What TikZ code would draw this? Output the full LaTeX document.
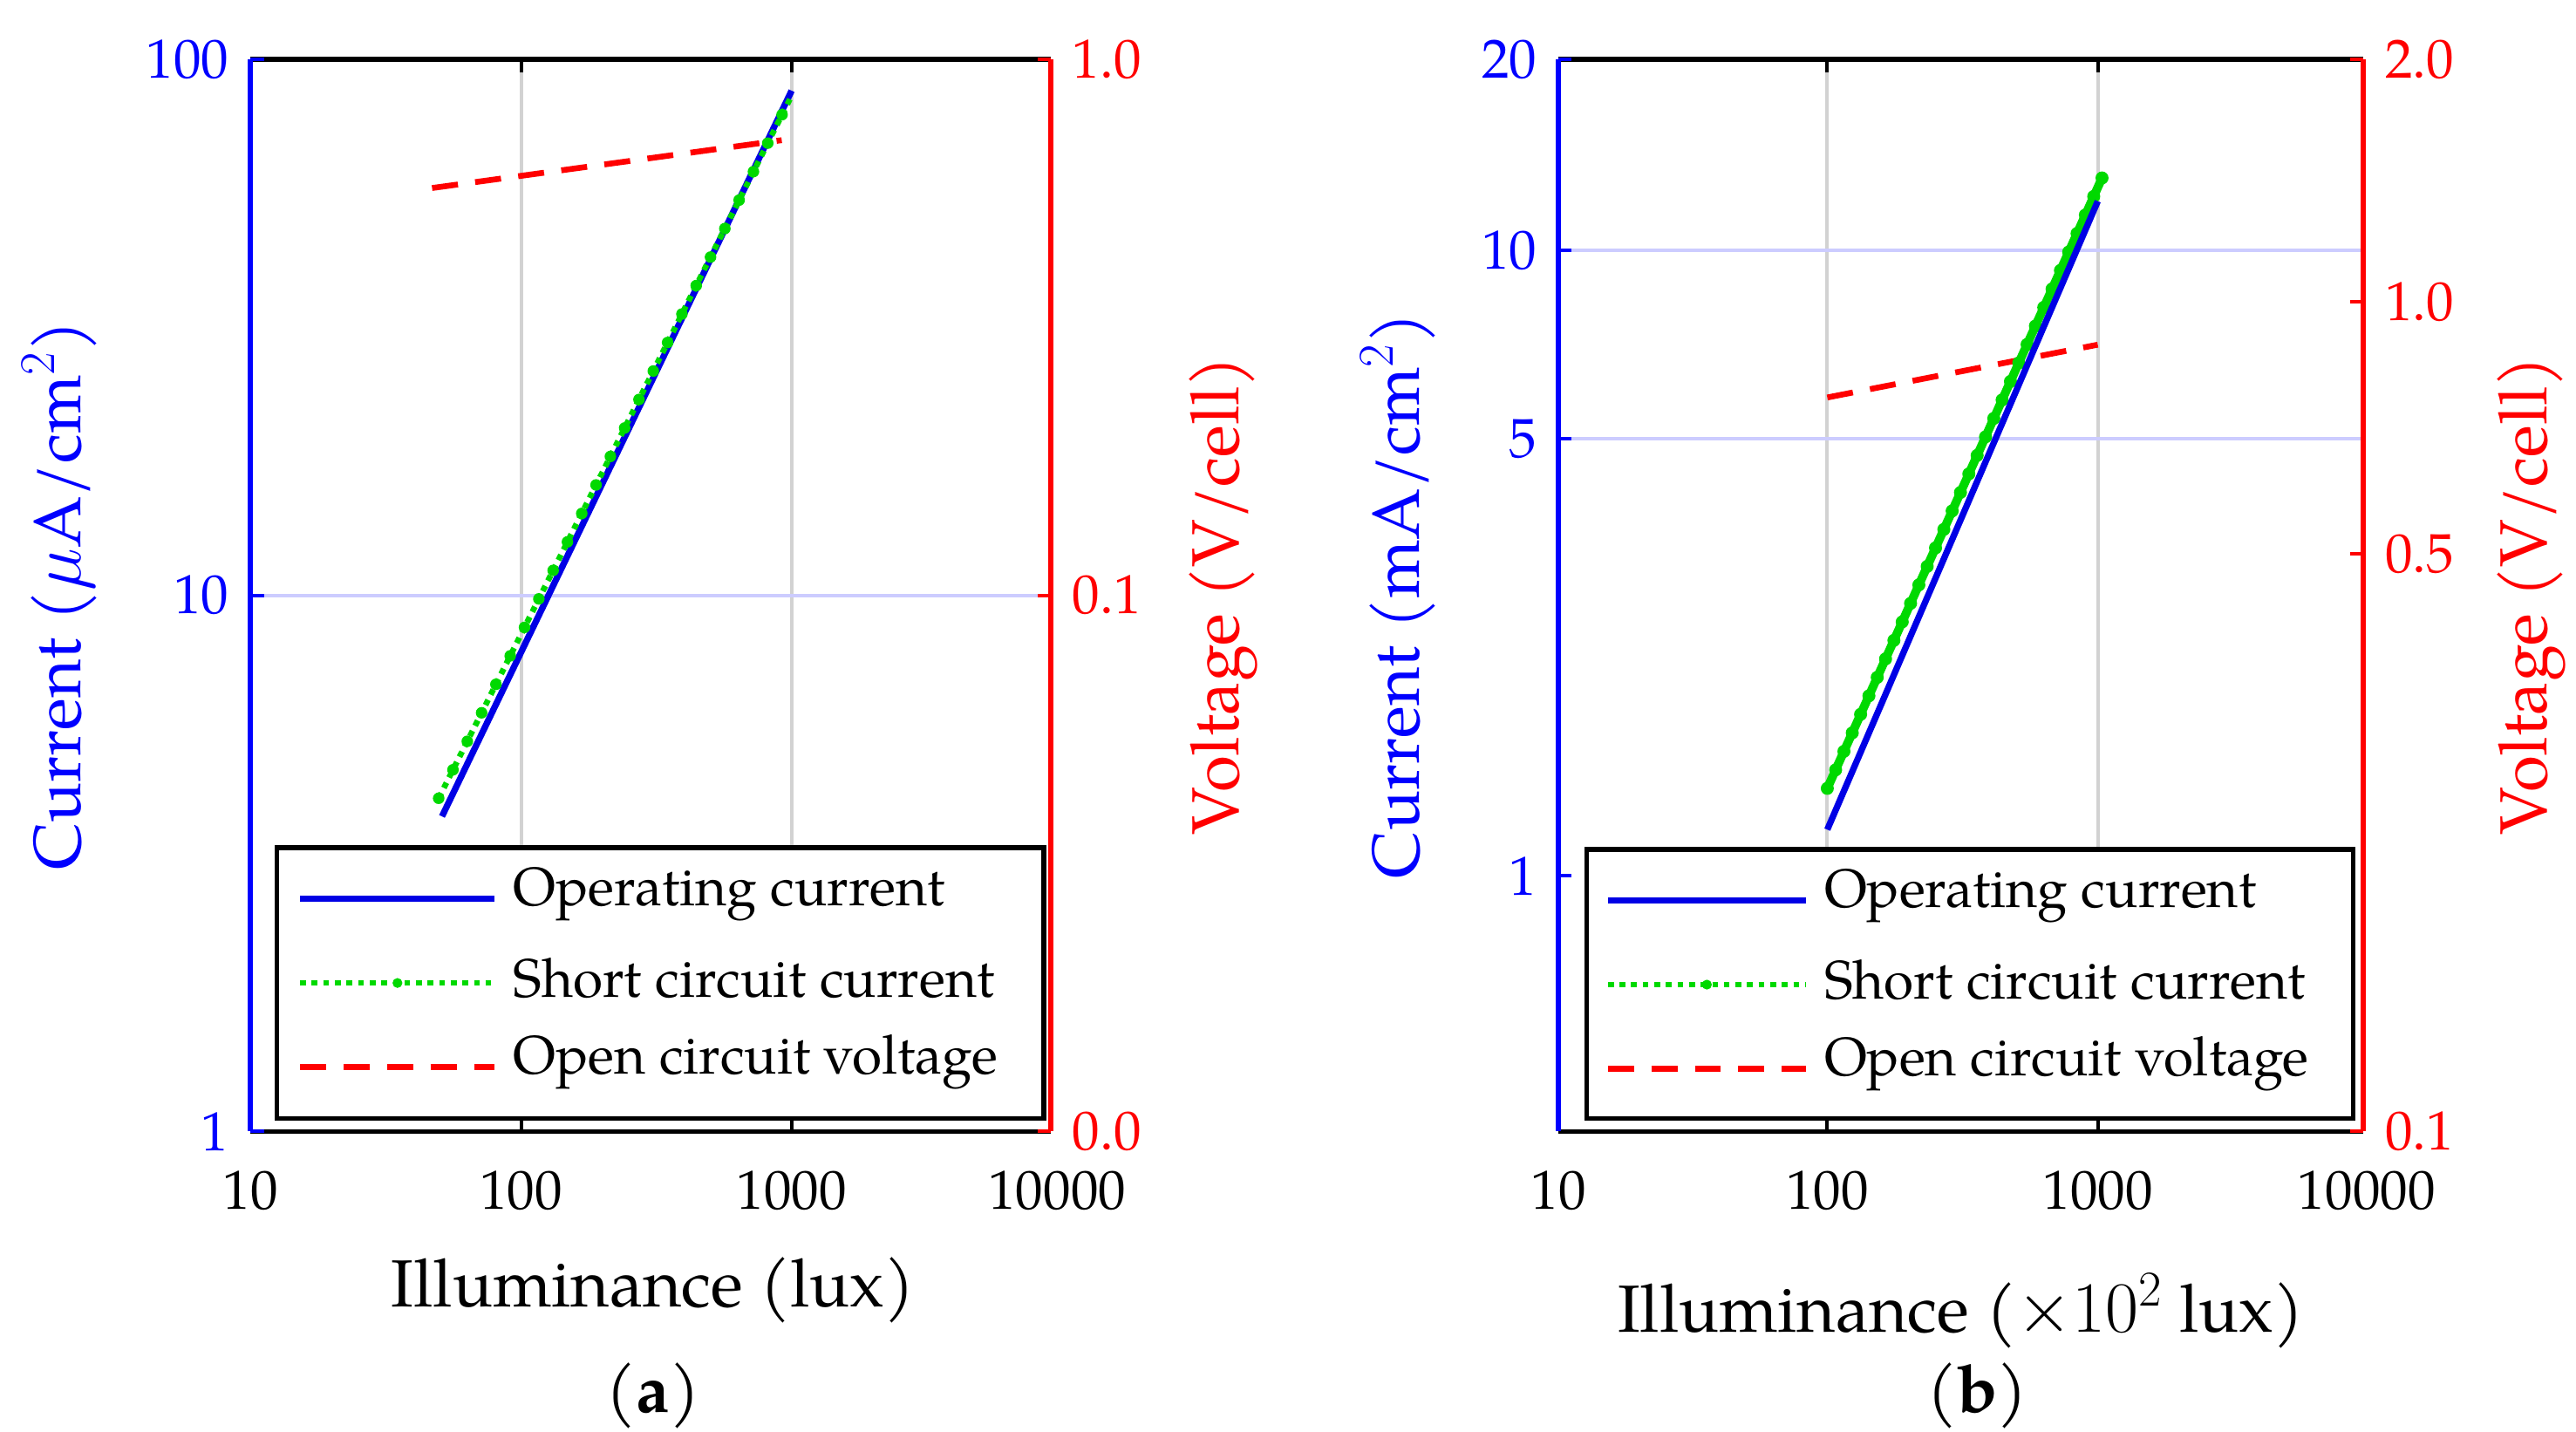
\documentclass[tikz,border=0pt]{standalone}
\usepackage{fontspec}
\setmainfont{TeX Gyre Pagella}[Extension=.otf,UprightFont=texgyrepagella-regular,BoldFont=texgyrepagella-bold]
\begin{document}
\begin{tikzpicture}[x=0.02cm,y=-0.02cm,
 tk/.style={font=\fontsize{19}{21}\selectfont},
 lab/.style={font=\fontsize{23}{25}\selectfont},
 leg/.style={font=\fontsize{18.7}{21}\selectfont,anchor=west},
 opc/.style={blue!90!black,line width=2.2pt},
 scc/.style={green!85!black,line width=2pt,dotted},
 dots/.style={green!85!black,line width=4.5pt,line cap=round,dash pattern=on 0pt off 7pt},
 ocv/.style={red,line width=2pt,dash pattern=on 9pt off 6pt},
 gridv/.style={gray!35,line width=1.2pt},
 gridh/.style={blue!20,line width=1.2pt}]
\useasboundingbox (0,0) rectangle (1562,868);
% ---------- panel a
\draw[gridv] (316,36)--(316,686) (480,36)--(480,686);
\draw[gridh] (152,361)--(637,361);
\draw[black,line width=1.6pt] (152,36)--(637,36) (152,686)--(637,686);
\draw[blue,line width=1.8pt] (152,36)--(152,686);
\draw[red,line width=1.8pt] (637,36)--(637,686);
\foreach \y/\t in {36/100,361/10,686/1}{\draw[blue,line width=1.2pt](152,\y)--(160,\y); \node[tk,blue,anchor=east] at (145,\y) {\t};}
\foreach \y/\t in {36/1.0,361/0.1,686/0.0}{\draw[red,line width=1.2pt](637,\y)--(629,\y); \node[tk,red,anchor=west] at (644,\y) {\t};}
\foreach \x/\t in {152/10,316/100,480/1000,641/10000}{\node[tk] at (\x,722) {\t};}
\foreach \x in {316,480}{\draw[line width=1.2pt](\x,686)--(\x,678) (\x,36)--(\x,44);}
\draw[ocv] (262,114)--(474,85);
\draw[opc] (268,495)--(480,55);
\draw[scc] (266,484)--(480,58);
\draw[dots,dash pattern=on 0pt off 11pt,line width=4pt] (266,484)--(480,58);
\node[lab] at (396,782) {Illuminance (lux)};
\node[lab,blue,rotate=90] at (36,361) {Current ($\mu$A/cm$^2$)};
\node[lab,red,rotate=90] at (742,361) {Voltage (V/cell)};
\node[lab] at (396,846) {(\textbf{a})};
\draw[black,line width=1.6pt,fill=white] (168,514) rectangle (633,678);
\draw[opc] (182,545)--(300,545); \node[leg] at (305,542) {Operating current};
\draw[scc] (182,596)--(300,596); \fill[green!85!black] (241,596) circle (3); \node[leg] at (305,593) {Short circuit current};
\draw[ocv] (182,647)--(300,647); \node[leg] at (305,644) {Open circuit voltage};
% ---------- panel b
\draw[gridv] (1108,36)--(1108,686) (1272,36)--(1272,686);
\draw[gridh] (945,152)--(1433,152) (945,266)--(1433,266);
\draw[black,line width=1.6pt] (945,36)--(1433,36) (945,686)--(1433,686);
\draw[blue,line width=1.8pt] (945,36)--(945,686);
\draw[red,line width=1.8pt] (1433,36)--(1433,686);
\foreach \y/\t in {36/20,152/10,266/5,531/1}{\draw[blue,line width=1.2pt](945,\y)--(953,\y); \node[tk,blue,anchor=east] at (938,\y) {\t};}
\foreach \y/\t in {36/2.0,183/1.0,336/0.5,686/0.1}{\draw[red,line width=1.2pt](1433,\y)--(1425,\y); \node[tk,red,anchor=west] at (1440,\y) {\t};}
\foreach \x/\t in {945/10,1108/100,1272/1000,1435/10000}{\node[tk] at (\x,722) {\t};}
\foreach \x in {1108,1272}{\draw[line width=1.2pt](\x,686)--(\x,678) (\x,36)--(\x,44);}
\draw[ocv] (1108,241)--(1272,209);
\draw[green!85!black,line width=3pt] (1108,478)--(1275,107);
\draw[dots] (1108,478)--(1275,107);
\draw[opc] (1108,503)--(1272,122);
\node[lab] at (1189,795) {Illuminance ($\times10^2$ lux)};
\node[lab,blue,rotate=90] at (848,361) {Current (mA/cm$^2$)};
\node[lab,red,rotate=90] at (1535,361) {Voltage (V/cell)};
\node[lab] at (1199,846) {(\textbf{b})};
\draw[black,line width=1.6pt,fill=white] (962,515) rectangle (1427,678);
\draw[opc] (975,546)--(1095,546); \node[leg] at (1100,543) {Operating current};
\draw[scc] (975,597)--(1095,597); \fill[green!85!black] (1035,597) circle (3); \node[leg] at (1100,594) {Short circuit current};
\draw[ocv] (975,648)--(1095,648); \node[leg] at (1100,645) {Open circuit voltage};
\end{tikzpicture}
\end{document}
